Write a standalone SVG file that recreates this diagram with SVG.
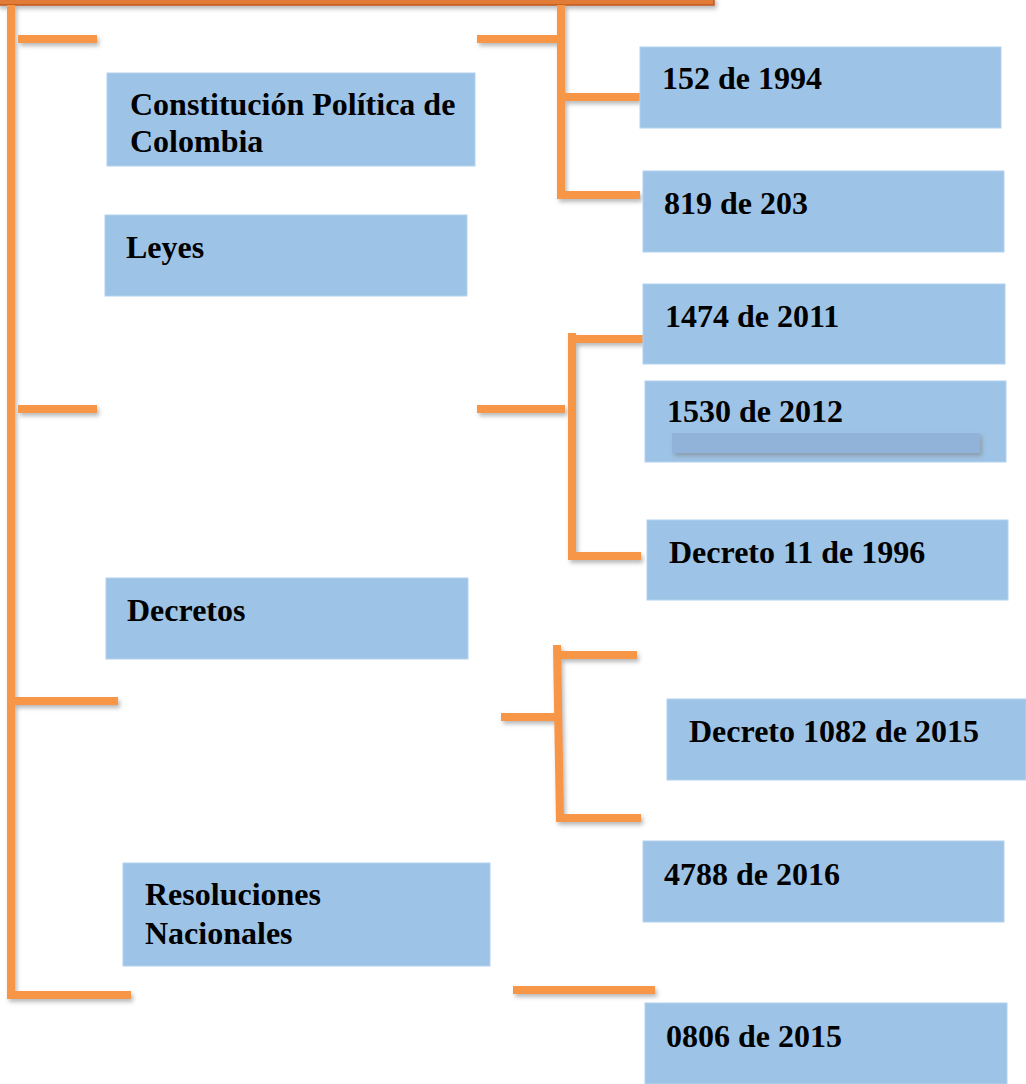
<svg xmlns="http://www.w3.org/2000/svg" width="1026" height="1084" viewBox="0 0 1026 1084">
<defs>
<filter id="sh" x="-20%" y="-20%" width="140%" height="160%">
<feDropShadow dx="2" dy="3" stdDeviation="2" flood-color="#808080" flood-opacity="0.55"/>
</filter>
<style>
.box{fill:#9DC3E6;stroke:#B4D2EE;stroke-width:1}
.t{font-family:"Liberation Serif","Times New Roman",serif;font-weight:bold;font-size:32px;fill:#000}
.ln{stroke:#F79646;stroke-width:8;fill:none;stroke-linecap:butt}
</style>
</defs>
<rect width="1026" height="1084" fill="#fff"/>
<g id="connectors" filter="url(#sh)">
<rect x="-2" y="-2" width="716" height="7" fill="#E07B39" stroke="#C55A11" stroke-width="1.5"/>
<line class="ln" x1="11" y1="5" x2="11" y2="998"/>
<line class="ln" x1="18" y1="39" x2="97" y2="39"/>
<line class="ln" x1="18" y1="409" x2="97" y2="409"/>
<line class="ln" x1="7" y1="701" x2="118" y2="701"/>
<line class="ln" x1="7" y1="995" x2="131" y2="995"/>
<line class="ln" x1="477" y1="39" x2="557" y2="39"/>
<line class="ln" x1="561" y1="5" x2="561" y2="199"/>
<line class="ln" x1="564" y1="97" x2="640" y2="97"/>
<line class="ln" x1="561" y1="195" x2="640" y2="195"/>
<line class="ln" x1="477" y1="409" x2="565" y2="409"/>
<line class="ln" x1="572" y1="333" x2="572" y2="560"/>
<line class="ln" x1="574" y1="339" x2="643" y2="339"/>
<line class="ln" x1="572" y1="556" x2="641" y2="556"/>
<line class="ln" x1="501" y1="717" x2="560" y2="717"/>
<line class="ln" x1="557" y1="645" x2="560" y2="822"/>
<line class="ln" x1="560" y1="655" x2="637" y2="655"/>
<line class="ln" x1="561" y1="818" x2="641" y2="818"/>
<line class="ln" x1="513" y1="990" x2="655" y2="990"/>
</g>
<g id="n-constitucion">
<rect class="box" x="107" y="73" width="368" height="93"/>
<text class="t" x="130" y="115">Constitución Política de</text>
<text class="t" x="130" y="152">Colombia</text>
</g>
<g id="n-leyes">
<rect class="box" x="105" y="215" width="362" height="81"/>
<text class="t" x="126" y="258">Leyes</text>
</g>
<g id="n-decretos">
<rect class="box" x="106" y="578" width="362" height="81"/>
<text class="t" x="127" y="621">Decretos</text>
</g>
<g id="n-resoluciones">
<rect class="box" x="123" y="863" width="367" height="103"/>
<text class="t" x="145" y="905">Resoluciones</text>
<text class="t" x="145" y="944">Nacionales</text>
</g>
<g id="n-152">
<rect class="box" x="640" y="47" width="361" height="81"/>
<text class="t" x="662" y="89">152 de 1994</text>
</g>
<g id="n-819">
<rect class="box" x="643" y="171" width="361" height="81"/>
<text class="t" x="664" y="214">819 de 203</text>
</g>
<g id="n-1474">
<rect class="box" x="643" y="284" width="362" height="80"/>
<text class="t" x="665" y="327">1474 de 2011</text>
</g>
<g id="n-1530">
<rect class="box" x="645" y="381" width="361" height="81"/>
<rect x="672" y="433" width="308" height="20" fill="#91B3D9" filter="url(#sh)"/>
<text class="t" x="667" y="422">1530 de 2012</text>
</g>
<g id="n-decreto11">
<rect class="box" x="647" y="520" width="361" height="80"/>
<text class="t" x="669" y="563">Decreto 11 de 1996</text>
</g>
<g id="n-decreto1082">
<rect class="box" x="667" y="699" width="359" height="81"/>
<text class="t" x="689" y="742">Decreto 1082 de 2015</text>
</g>
<g id="n-4788">
<rect class="box" x="643" y="841" width="361" height="81"/>
<text class="t" x="664" y="885">4788 de 2016</text>
</g>
<g id="n-0806">
<rect class="box" x="645" y="1003" width="362" height="81"/>
<text class="t" x="666" y="1047">0806 de 2015</text>
</g>
</svg>
